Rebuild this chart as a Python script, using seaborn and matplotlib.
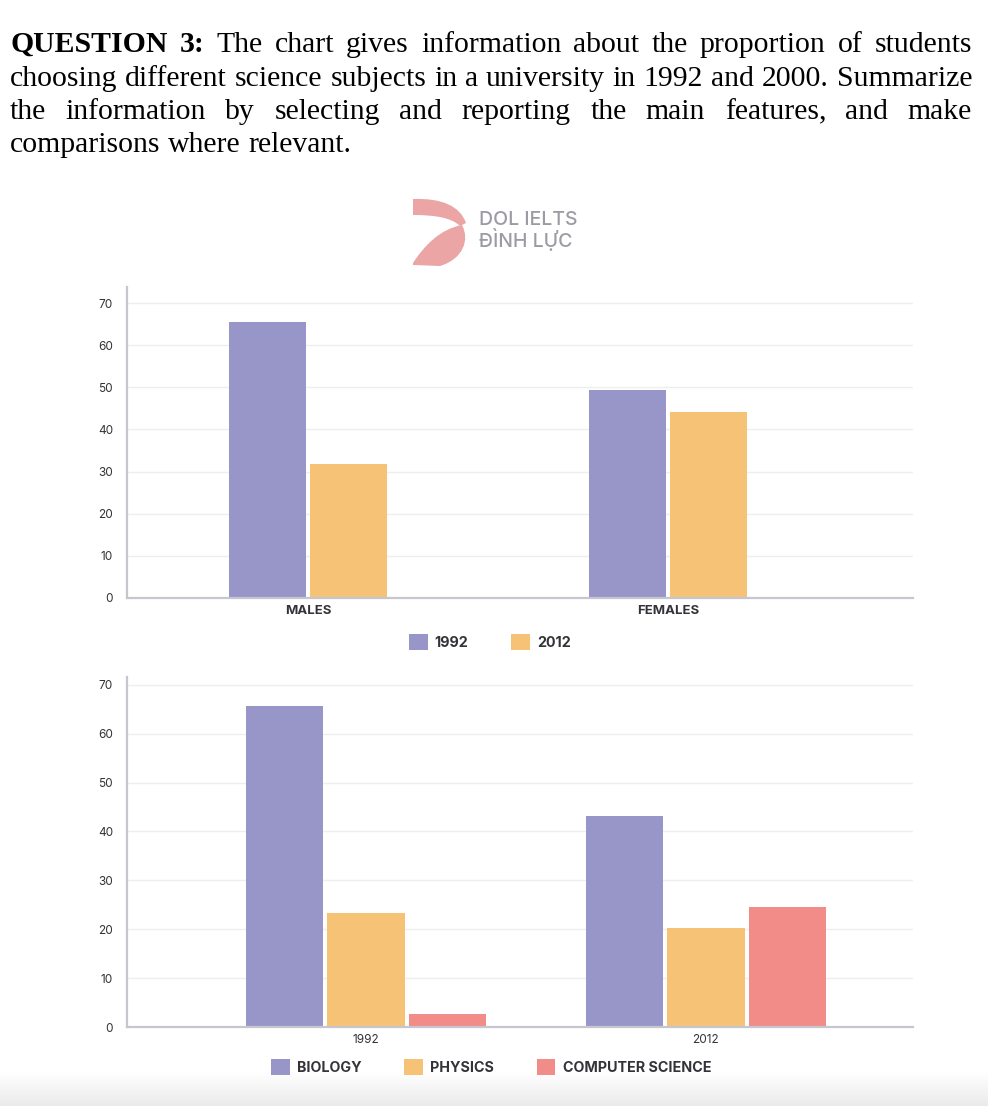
import numpy as np
import pandas as pd
import matplotlib
matplotlib.use("Agg")
import matplotlib.pyplot as plt
import seaborn as sns
from matplotlib.patches import Patch, PathPatch
from matplotlib.path import Path

# ---------------- data ----------------
gender_groups = ["MALES", "FEMALES"]
gender_years = ["1992", "2012"]
gender_1992 = [65.6, 49.4]
gender_2012 = [31.8, 44.2]

subject_years = ["1992", "2012"]
subjects = ["BIOLOGY", "PHYSICS", "COMPUTER SCIENCE"]
biology = [65.6, 43.1]
physics = [23.4, 20.2]
computer_science = [2.6, 24.6]

yticks = [0, 10, 20, 30, 40, 50, 60, 70]

title_lines = [
    "QUESTION 3: The chart gives information about the proportion of students",
    "choosing different science subjects in a university in 1992 and 2000. Summarize",
    "the information by selecting and reporting the main features, and make",
    "comparisons where relevant.",
]

# ---------------- style ----------------
sns.set_theme(style="white")
plt.rcParams["font.family"] = ["Inter", "DejaVu Sans"]

PURPLE = "#9896c8"
ORANGE = "#f6c376"
PINK = "#f28c88"
SPINE = "#c6c6d0"
GRID = "#eeeeee"
TXT = "#333338"

W, H = 988, 1106
fig = plt.figure(figsize=(W / 100, H / 100), dpi=100)
fig.patch.set_facecolor("white")


def fx(x):
    return x / W


def fy(y):
    return 1 - y / H


# ---------------- bottom gradient ----------------
bg = fig.add_axes([0, 0, 1, 34 / H], zorder=-5)
grad = np.linspace(0.92, 1.0, 64).reshape(-1, 1)
img = np.dstack([grad, grad, grad])
bg.imshow(img, aspect="auto", extent=[0, 1, 0, 1], origin="lower")
bg.axis("off")

# ---------------- title (justified) ----------------
renderer = fig.canvas.get_renderer()
serif = "Liberation Serif"
probe = fig.text(0, 0, title_lines[1], family=serif, fontsize=20)
wnat = probe.get_window_extent(renderer=renderer).width
probe.remove()
fs = 20 * 958 / wnat

baselines = [52, 86, 119, 152]
left, right = 10, 972
for i, line in enumerate(title_lines):
    words = line.split(" ")
    texts = []
    for j, w in enumerate(words):
        bold = (i == 0 and j < 2)
        t = fig.text(0, fy(baselines[i]), w, family=serif, fontsize=fs,
                     fontweight="bold" if bold else "normal", color="black",
                     va="baseline", ha="left")
        texts.append(t)
    widths = [t.get_window_extent(renderer=renderer).width for t in texts]
    if i < len(title_lines) - 1:
        gap = (right - left - sum(widths)) / (len(words) - 1)
    else:
        sp = fig.text(0, 0, "a a", family=serif, fontsize=fs)
        sa = fig.text(0, 0, "aa", family=serif, fontsize=fs)
        gap = sp.get_window_extent(renderer=renderer).width - sa.get_window_extent(renderer=renderer).width
        sp.remove(); sa.remove()
    x = left
    for t, w in zip(texts, widths):
        t.set_x(fx(x))
        x += w + gap

# ---------------- logo ----------------
logo_col = "#eaa5a4"
def P(x, y):
    return (fx(x), fy(y))

upper = Path([P(413, 199), P(442, 198), P(460, 206), P(466, 223),
              P(460, 226), P(452, 218), P(436, 215), P(413, 215), P(413, 199)],
             [Path.MOVETO, Path.CURVE4, Path.CURVE4, Path.CURVE4,
              Path.LINETO, Path.CURVE4, Path.CURVE4, Path.CURVE4, Path.CLOSEPOLY])
lower = Path([P(413, 263), P(424, 246), P(440, 229), P(462, 225),
              P(470, 240), P(463, 259), P(440, 266), P(413, 265), P(413, 263)],
             [Path.MOVETO, Path.CURVE4, Path.CURVE4, Path.CURVE4,
              Path.CURVE4, Path.CURVE4, Path.CURVE4, Path.LINETO, Path.CLOSEPOLY])
for pth in (upper, lower):
    fig.patches.append(PathPatch(pth, transform=fig.transFigure, facecolor=logo_col,
                                 edgecolor="none", zorder=3))
fig.text(fx(479), fy(211), "DOL IELTS\nĐÌNH LỰC", fontsize=14, color="#9b9ba3",
         va="top", ha="left", fontweight="medium", linespacing=0.95)

# ---------------- dataframes ----------------
df_gender = pd.DataFrame({
    "group": gender_groups * 2,
    "year": [gender_years[0]] * 2 + [gender_years[1]] * 2,
    "value": gender_1992 + gender_2012,
})
df_subj = pd.DataFrame({
    "year": subject_years * 3,
    "subject": [subjects[0]] * 2 + [subjects[1]] * 2 + [subjects[2]] * 2,
    "value": biology + physics + computer_science,
})


def style_axes(ax, ytop):
    ax.set_ylim(0, ytop)
    ax.set_yticks(yticks)
    ax.set_yticklabels([str(v) for v in yticks])
    ax.yaxis.grid(True, color=GRID, linewidth=1.0)
    ax.set_axisbelow(True)
    for s in ("top", "right"):
        ax.spines[s].set_visible(False)
    for s in ("left", "bottom"):
        ax.spines[s].set_color(SPINE)
        ax.spines[s].set_linewidth(1.6)
    ax.tick_params(axis="y", length=0, pad=10, labelsize=8.5, labelcolor=TXT)
    ax.set_xlabel("")
    ax.set_ylabel("")


# ---------------- top chart ----------------
ax1 = fig.add_axes([fx(127), fy(598), (913 - 127) / W, (598 - 287) / H])
sns.barplot(data=df_gender, x="group", y="value", hue="year", order=gender_groups,
            hue_order=gender_years, palette=[PURPLE, ORANGE], width=0.45, gap=0.05,
            saturation=1, linewidth=0, legend=False, ax=ax1)
style_axes(ax1, 73.8)
ax1.set_xlim(-0.503, 1.68)
ax1.tick_params(axis="x", length=0, pad=5, labelsize=9.5, labelcolor=TXT)
for lab in ax1.get_xticklabels():
    lab.set_fontweight("bold")

fig.legend(handles=[Patch(facecolor=PURPLE, edgecolor="none", label="1992"),
                    Patch(facecolor=ORANGE, edgecolor="none", label="2012")],
           loc="center", bbox_to_anchor=(fx(490), fy(642)), ncol=2, frameon=False,
           handlelength=1.3, handleheight=1.3, handletextpad=0.5, columnspacing=3.0,
           prop={"weight": "bold", "size": 10.3}, labelcolor=TXT)

# ---------------- bottom chart ----------------
ax2 = fig.add_axes([fx(127), fy(1027), (913 - 127) / W, (1027 - 677) / H])
sns.barplot(data=df_subj, x="year", y="value", hue="subject", order=subject_years,
            hue_order=subjects, palette=[PURPLE, ORANGE, PINK], width=0.72, gap=0.05,
            saturation=1, linewidth=0, legend=False, ax=ax2)
style_axes(ax2, 71.6)
ax2.set_xlim(-0.703, 1.609)
ax2.tick_params(axis="x", length=0, pad=5, labelsize=8.5, labelcolor=TXT)

fig.legend(handles=[Patch(facecolor=PURPLE, edgecolor="none", label=subjects[0]),
                    Patch(facecolor=ORANGE, edgecolor="none", label=subjects[1]),
                    Patch(facecolor=PINK, edgecolor="none", label=subjects[2])],
           loc="center", bbox_to_anchor=(fx(491), fy(1067)), ncol=3, frameon=False,
           handlelength=1.3, handleheight=1.3, handletextpad=0.5, columnspacing=3.0,
           prop={"weight": "bold", "size": 10.3}, labelcolor=TXT)

fig.savefig("out.png", dpi=100, facecolor="white")
